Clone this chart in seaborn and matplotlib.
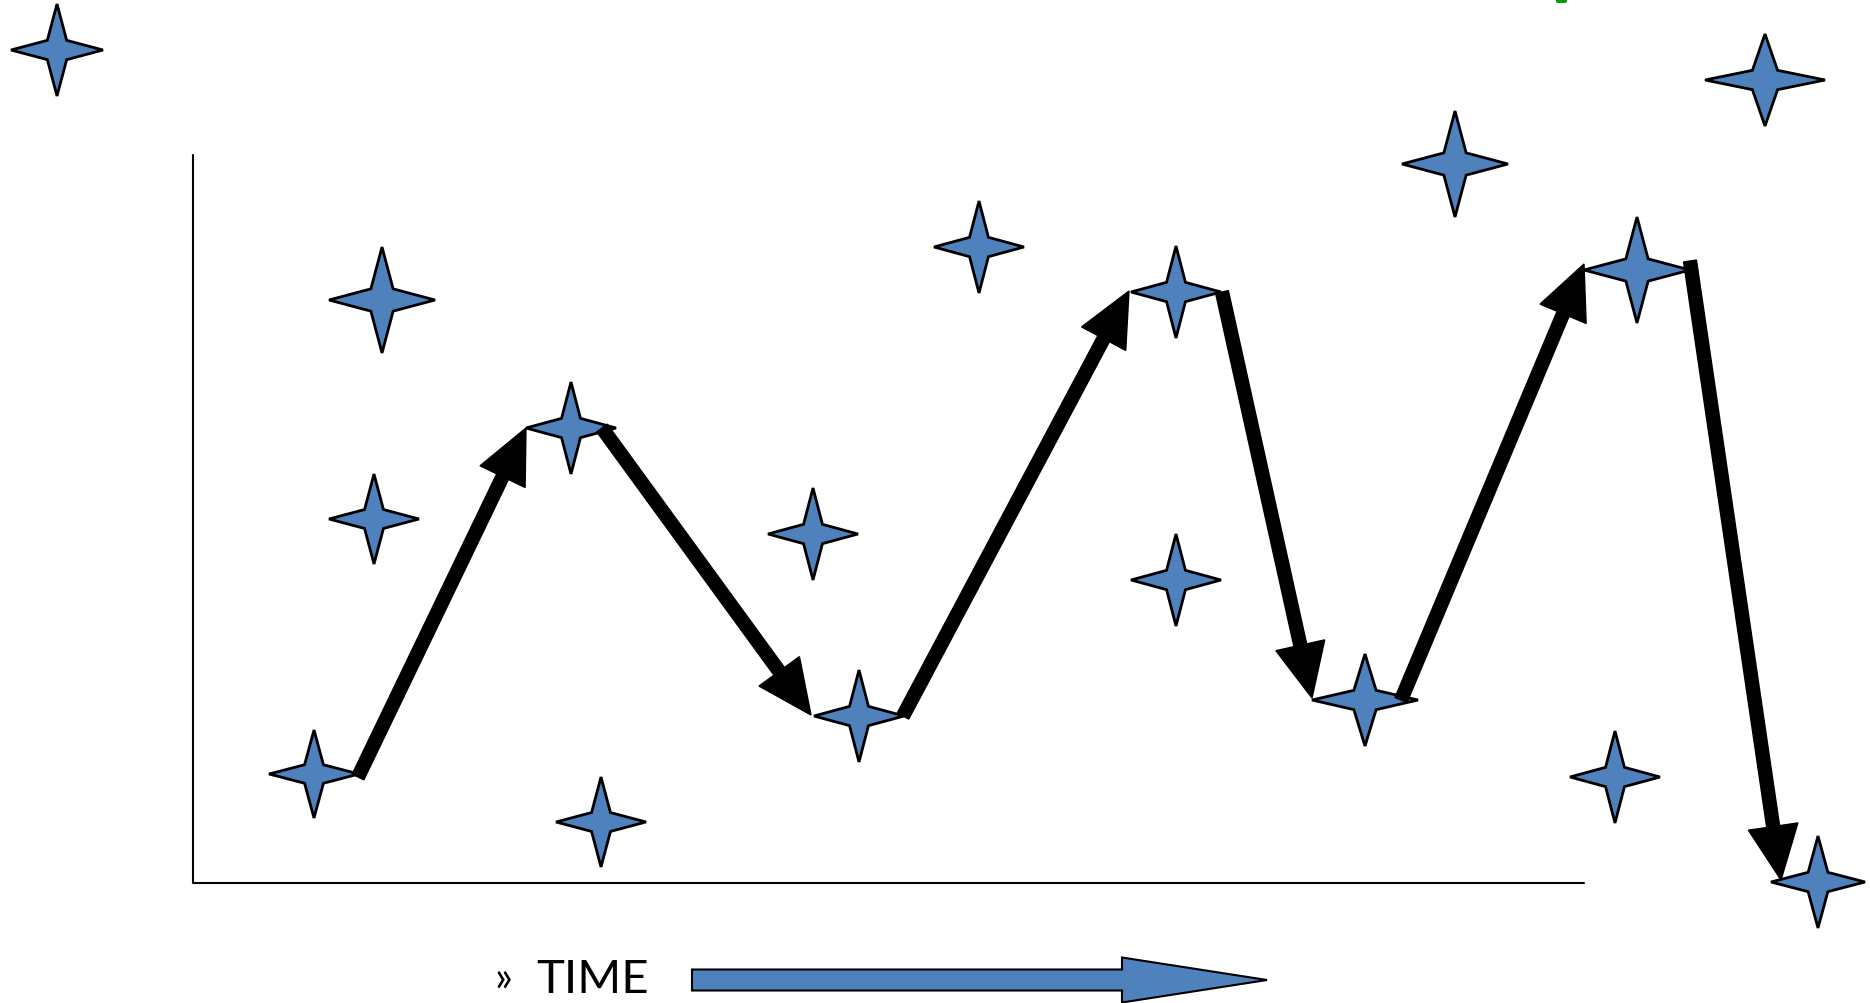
import numpy as np
import matplotlib.pyplot as plt
import seaborn as sns
from matplotlib.patches import Polygon, FancyBboxPatch

W, H = 1870, 1004

# stars: centre, half width, half height (pixel units of the picture)
star_x = [57, 382, 374, 314, 571, 601, 813, 859, 979, 1176, 1176, 1365, 1455, 1637, 1615, 1765, 1818]
star_y = [51, 301, 520, 775, 429, 823, 535, 717, 248, 293, 581, 701, 165, 271, 778, 81, 883]
star_hw = [46, 53, 45, 45, 45, 45, 45, 45, 45, 45, 45, 53, 53, 53, 45, 60, 47]
star_hh = [46, 53, 45, 44, 46, 45, 46, 46, 46, 46, 46, 46, 53, 53, 46, 46, 46]

# zig-zag path of black arrows (start -> end)
arrow_x0 = [358, 602, 903, 1222, 1401, 1690]
arrow_y0 = [778, 429, 717, 293, 701, 262]
arrow_x1 = [526, 811, 1129, 1312, 1584, 1781]
arrow_y1 = [429, 716, 292, 699, 265, 881]

# time axis frame
axis_x = [193, 193, 1584]
axis_y = [156, 884, 884]

bullet = "»"
label = "TIME"

sns.set_theme(style="white")
plt.rcParams['font.family'] = ['Lato', 'DejaVu Sans']

fig = plt.figure(figsize=(W / 100, H / 100), dpi=100)
ax = fig.add_axes([0, 0, 1, 1])
ax.set_xlim(0, W)
ax.set_ylim(H, 0)
ax.axis("off")

sns.lineplot(x=axis_x, y=axis_y, sort=False, estimator=None, color="black",
             linewidth=1.5, ax=ax)

blue = "#4F81BD"


def star(cx, cy, hw, hh):
    iw, ih = 0.21 * hw, 0.21 * hh
    pts = [(cx, cy - hh), (cx + iw, cy - ih), (cx + hw, cy), (cx + iw, cy + ih),
           (cx, cy + hh), (cx - iw, cy + ih), (cx - hw, cy), (cx - iw, cy - ih)]
    return Polygon(pts, closed=True, facecolor=blue, edgecolor="black",
                   linewidth=2, joinstyle="miter", zorder=3)


for cx, cy, hw, hh in zip(star_x, star_y, star_hw, star_hh):
    ax.add_patch(star(cx, cy, hw, hh))

for x0, y0, x1, y1 in zip(arrow_x0, arrow_y0, arrow_x1, arrow_y1):
    ax.arrow(x0, y0, x1 - x0, y1 - y0, width=13, head_width=50, head_length=54,
             length_includes_head=True, color="black", zorder=4)

# big blue time arrow
ax.arrow(692, 981, 575, 0, width=21, head_width=45, head_length=145,
         length_includes_head=True, facecolor=blue, edgecolor="black",
         linewidth=1.5, zorder=3)
ax.text(494, 980, bullet, fontsize=30, color="black", ha="left", va="center")
ax.text(536, 980, label, fontsize=34, color="black", ha="left", va="center")

# small green mark at top edge
ax.add_patch(FancyBboxPatch((1556, -6), 11, 10, boxstyle="round,pad=0,rounding_size=2",
                            facecolor="#00A000", edgecolor="none", zorder=3))

fig.savefig("out.png", dpi=100)
